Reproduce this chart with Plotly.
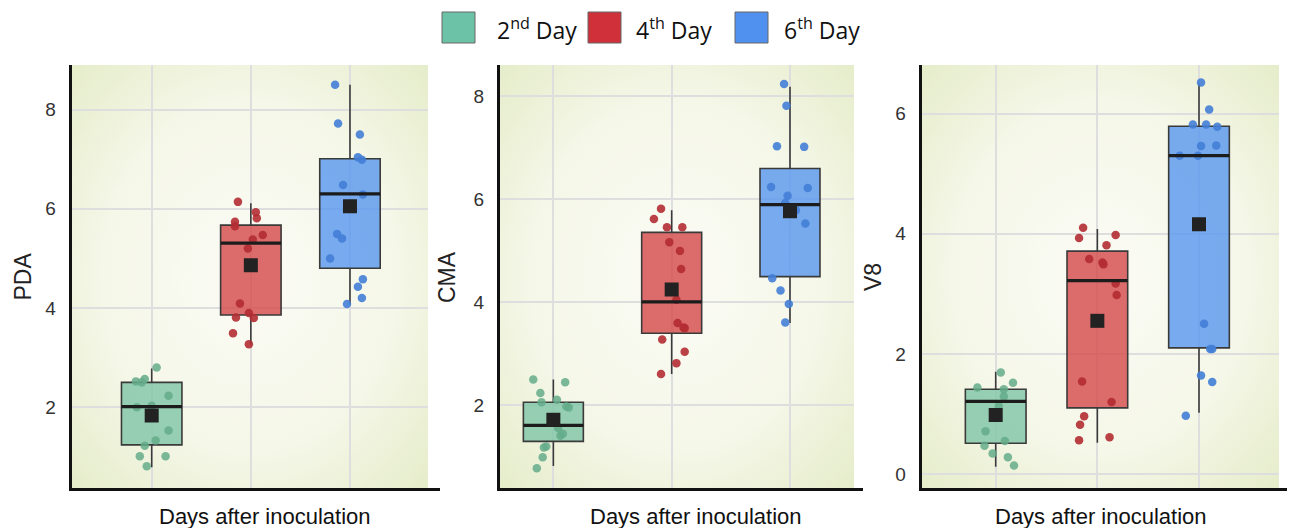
import base64
import plotly.graph_objects as go

# ---------------- data ----------------
days = ["2nd Day", "4th Day", "6th Day"]
day_labels = ["2<sup>nd</sup> Day", "4<sup>th</sup> Day", "6<sup>th</sup> Day"]

# PDA
pda_q1 = [1.24, 3.86, 4.80]
pda_median = [2.01, 5.31, 6.30]
pda_q3 = [2.50, 5.67, 7.01]
pda_lower = [0.79, 3.27, 4.08]
pda_upper = [2.78, 6.11, 8.50]
pda_mean = [1.83, 4.86, 6.05]
pda_d2 = [2.80, 2.52, 2.57, 2.50, 2.23, 2.00, 2.03, 1.53, 1.33, 1.22, 1.01, 1.01, 0.81]
pda_j2 = [0.05, -0.16, -0.07, -0.10, 0.17, -0.15, 0.0, 0.17, 0.04, -0.07, -0.12, 0.14, -0.05]
pda_d4 = [6.14, 5.93, 5.81, 5.74, 5.65, 5.47, 5.38, 5.20, 4.09, 3.81, 3.90, 3.80, 3.49, 3.27]
pda_j4 = [-0.13, 0.05, 0.06, -0.16, -0.16, 0.12, 0.02, -0.03, -0.11, -0.15, -0.02, 0.03, -0.18, -0.02]
pda_d6 = [8.50, 7.72, 7.50, 7.04, 6.99, 6.48, 6.29, 5.49, 5.40, 5.00, 4.58, 4.43, 4.20, 4.08]
pda_j6 = [-0.15, -0.12, 0.10, 0.08, 0.12, -0.07, 0.13, -0.13, -0.08, -0.20, 0.13, 0.08, 0.12, -0.03]

# CMA
cma_q1 = [1.30, 3.40, 4.50]
cma_median = [1.61, 4.01, 5.90]
cma_q3 = [2.06, 5.36, 6.60]
cma_lower = [0.82, 2.61, 3.60]
cma_upper = [2.50, 5.79, 8.19]
cma_mean = [1.72, 4.25, 5.77]
cma_d2 = [2.50, 2.45, 2.24, 2.06, 2.11, 1.98, 1.96, 1.56, 1.41, 1.45, 1.20, 1.18, 0.99, 0.78]
cma_j2 = [-0.17, 0.10, -0.11, -0.10, 0.03, 0.11, 0.13, 0.04, 0.06, 0.08, -0.06, -0.08, -0.09, -0.14]
cma_d4 = [5.82, 5.62, 5.46, 5.46, 5.17, 5.00, 4.65, 4.05, 3.60, 3.51, 3.50, 3.28, 3.04, 2.82, 2.61]
cma_j4 = [-0.09, -0.15, -0.04, 0.09, -0.02, 0.07, 0.08, 0.04, 0.05, 0.10, 0.11, -0.08, 0.11, 0.04, -0.09]
cma_d6 = [8.24, 7.82, 7.03, 7.02, 6.24, 6.22, 6.07, 5.93, 5.79, 5.53, 4.47, 4.23, 3.97, 3.61]
cma_j6 = [-0.05, -0.03, -0.11, 0.12, -0.16, 0.15, -0.02, -0.04, 0.05, 0.13, -0.15, -0.08, -0.01, -0.04]

# V8
v8_q1 = [0.51, 1.10, 2.10]
v8_median = [1.21, 3.22, 5.30]
v8_q3 = [1.41, 3.71, 5.79]
v8_lower = [0.12, 0.52, 1.02]
v8_upper = [1.70, 4.08, 6.50]
v8_mean = [0.98, 2.55, 4.16]
v8_d2 = [1.69, 1.52, 1.44, 1.41, 1.29, 1.13, 0.71, 0.55, 0.47, 0.34, 0.28, 0.14]
v8_j2 = [0.05, 0.17, -0.18, 0.08, 0.08, 0.03, -0.10, 0.09, -0.11, -0.03, 0.12, 0.18]
v8_d4 = [4.10, 3.98, 3.93, 3.81, 3.58, 3.52, 3.49, 3.17, 2.98, 1.54, 1.20, 0.96, 0.82, 0.61, 0.56]
v8_j4 = [-0.14, 0.18, -0.18, 0.09, -0.08, 0.05, 0.06, 0.18, 0.19, -0.15, 0.14, -0.13, -0.17, 0.12, -0.18]
v8_d6 = [6.52, 6.07, 5.82, 5.82, 5.78, 5.46, 5.47, 5.30, 5.30, 2.50, 2.08, 2.08, 1.64, 1.53, 0.97]
v8_j6 = [0.02, 0.10, -0.06, 0.07, 0.18, 0.02, 0.17, -0.19, -0.01, 0.05, 0.11, 0.13, 0.02, 0.13, -0.13]

panel_names = ["PDA", "CMA", "V8"]

# ---------------- styles ----------------
W, H = 1290, 528
box_fill = ["rgba(126,196,166,0.80)", "rgba(212,72,72,0.80)", "rgba(90,152,238,0.82)"]
point_col = ["rgba(100,172,138,0.85)", "rgba(178,44,50,0.9)", "rgba(66,126,214,0.9)"]
legend_col = ["#6cc2a6", "#d0303a", "#5090ef"]

panels = [
    dict(name=panel_names[0], q1=pda_q1, med=pda_median, q3=pda_q3, lo=pda_lower, hi=pda_upper, mean=pda_mean,
         pts=[(pda_d2, pda_j2), (pda_d4, pda_j4), (pda_d6, pda_j6)],
         px=(71.7, 428), line_end=440, xr=[-0.807, 2.787], yr=[0.37, 8.9], bw=0.61),
    dict(name=panel_names[1], q1=cma_q1, med=cma_median, q3=cma_q3, lo=cma_lower, hi=cma_upper, mean=cma_mean,
         pts=[(cma_d2, cma_j2), (cma_d4, cma_j4), (cma_d6, cma_j6)],
         px=(500, 854), line_end=863, xr=[-0.451, 2.541], yr=[0.395, 8.61], bw=0.507),
    dict(name=panel_names[2], q1=v8_q1, med=v8_median, q3=v8_q3, lo=v8_lower, hi=v8_upper, mean=v8_mean,
         pts=[(v8_d2, v8_j2), (v8_d4, v8_j4), (v8_d6, v8_j6)],
         px=(921.7, 1279), line_end=1287, xr=[-0.728, 2.787], yr=[-0.234, 6.81], bw=0.597),
]

y_top_px, y_bot_px = 65, 488
ydom = [1 - y_bot_px / H, 1 - y_top_px / H]

fig = go.Figure()

svg = ("<svg xmlns='http://www.w3.org/2000/svg' width='100' height='100' preserveAspectRatio='none'>"
       "<defs><radialGradient id='g' cx='50%' cy='50%' r='75%'>"
       "<stop offset='0' stop-color='#fbfbf5'/><stop offset='0.55' stop-color='#f5f7e8'/>"
       "<stop offset='1' stop-color='#e3ebc5'/></radialGradient></defs>"
       "<rect width='100' height='100' fill='url(#g)'/></svg>")
svg_uri = "data:image/svg+xml;base64," + base64.b64encode(svg.encode()).decode()

images = []
annotations = []
shapes = []

for k, p in enumerate(panels):
    sfx = "" if k == 0 else str(k + 1)
    xa, ya = "x" + sfx, "y" + sfx
    # jittered points
    for i in range(3):
        vals, jit = p["pts"][i]
        fig.add_trace(go.Scatter(
            x=[i + j for j in jit], y=vals, mode="markers", xaxis=xa, yaxis=ya,
            marker=dict(size=8.5, color=point_col[i], line=dict(width=0)),
            showlegend=False, hoverinfo="y"))
    # boxes
    for i in range(3):
        fig.add_trace(go.Box(
            x=[i], q1=[p["q1"][i]], median=[p["med"][i]], q3=[p["q3"][i]],
            lowerfence=[p["lo"][i]], upperfence=[p["hi"][i]],
            xaxis=xa, yaxis=ya, width=p["bw"], whiskerwidth=0,
            fillcolor=box_fill[i], line=dict(color="#3a3a3a", width=1.6),
            boxpoints=False, showlegend=False, name=days[i]))
    # thick median lines
    mx, my = [], []
    for i in range(3):
        mx += [i - p["bw"] / 2, i + p["bw"] / 2, None]
        my += [p["med"][i], p["med"][i], None]
    fig.add_trace(go.Scatter(x=mx, y=my, mode="lines", xaxis=xa, yaxis=ya,
                             line=dict(color="#1c1c1c", width=3.2), showlegend=False, hoverinfo="skip"))
    # means
    fig.add_trace(go.Scatter(x=[0, 1, 2], y=p["mean"], mode="markers", xaxis=xa, yaxis=ya,
                             marker=dict(symbol="square", size=14, color="#222222"),
                             showlegend=False, hoverinfo="y"))

    x0p, x1p = p["px"]
    xdom = [x0p / W, x1p / W]
    fig.update_layout(**{
        "xaxis" + sfx: dict(domain=xdom, range=p["xr"], anchor=ya, tickvals=[0, 1, 2],
                            showticklabels=False, ticks="", showgrid=True, gridcolor="#dedede",
                            gridwidth=1.5, zeroline=False, showline=True, linecolor="#111",
                            linewidth=3, fixedrange=True),
        "yaxis" + sfx: dict(domain=ydom, range=p["yr"], anchor=xa, dtick=2, showgrid=True,
                            gridcolor="#dedede", gridwidth=1.5, zeroline=False, showline=True,
                            linecolor="#111", linewidth=3, ticks="outside", ticklen=9,
                            tickcolor="rgba(0,0,0,0)",
                            tickfont=dict(family="Liberation Sans, Arial", size=19, color="#333"),
                            fixedrange=True),
    })
    images.append(dict(source=svg_uri, xref="paper", yref="paper", x=xdom[0], y=ydom[1],
                       sizex=xdom[1] - xdom[0], sizey=ydom[1] - ydom[0], sizing="stretch",
                       xanchor="left", yanchor="top", layer="below"))
    # bottom axis line continues a little past the plot area
    yline = ydom[0] - 1.5 / H
    shapes.append(dict(type="line", xref="paper", yref="paper",
                       x0=(x1p - 1) / W, x1=p["line_end"] / W, y0=yline, y1=yline,
                       line=dict(color="#111", width=3)))

# axis titles
ytitle_x = [22.5, 447, 873]
xtitle_x = [265, 696, 1101]
for k, p in enumerate(panels):
    annotations.append(dict(text=p["name"], x=ytitle_x[k] / W, y=1 - 277 / H, xref="paper", yref="paper",
                            xanchor="center", yanchor="middle", showarrow=False, textangle=-90,
                            font=dict(family="Liberation Sans, Arial", size=23, color="#222")))
    annotations.append(dict(text="Days after inoculation", x=xtitle_x[k] / W, y=1 - 516 / H,
                            xref="paper", yref="paper", xanchor="center", yanchor="middle",
                            showarrow=False,
                            font=dict(family="Liberation Sans, Arial", size=22, color="#111")))

# legend (manual)
sw_x = [442, 588, 735]
tx_x = [495, 634, 782]
for i in range(3):
    shapes.append(dict(type="rect", xref="paper", yref="paper",
                       x0=sw_x[i] / W, x1=(sw_x[i] + 33) / W, y0=1 - 43 / H, y1=1 - 12 / H,
                       fillcolor=legend_col[i], line=dict(color="#666", width=1)))
    annotations.append(dict(text=day_labels[i], x=tx_x[i] / W, y=1 - 29 / H, xref="paper", yref="paper",
                            xanchor="left", yanchor="middle", showarrow=False,
                            font=dict(family="Open Sans", size=23, color="#111")))

fig.update_layout(width=W, height=H, margin=dict(l=0, r=0, t=0, b=0),
                  paper_bgcolor="white", plot_bgcolor="rgba(0,0,0,0)",
                  showlegend=False, images=images, annotations=annotations, shapes=shapes)

fig.write_html("out.html", config={"displayModeBar": False},
               post_script="document.body.style.margin='0';document.body.style.overflow='hidden';")
